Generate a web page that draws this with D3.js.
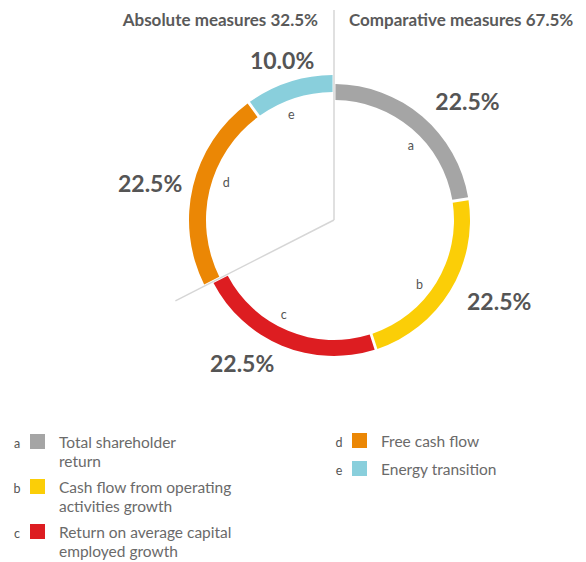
<!DOCTYPE html>
<html>
<head>
<meta charset="utf-8">
<script src="https://cdn.jsdelivr.net/npm/d3@7"></script>
<style>
  body { margin: 0; background: #fff; }
  svg { display: block; font-family: "Lato", "Open Sans", sans-serif; }
  .pct { font-size: 23px; font-weight: 700; fill: #555; }
  .head { font-size: 17px; font-weight: 700; fill: #5a5a5a; }
  .key { font-size: 12.5px; fill: #555; }
  .legend-text { font-size: 15.5px; font-weight: 400; fill: #6a6a6a; }
</style>
</head>
<body>
<svg id="chart" width="586" height="562"></svg>
<script>
/* ── Data ─────────────────────────────────────────────────────────────────── */

const KEYS = ["a", "b", "c", "d", "e"];
const NAMES = [
  ["Total shareholder", "return"],
  ["Cash flow from operating", "activities growth"],
  ["Return on average capital", "employed growth"],
  ["Free cash flow"],
  ["Energy transition"],
];
const SHARES = [22.5, 22.5, 22.5, 22.5, 10.0];
const GROUP_OF = ["comparative", "comparative", "comparative", "absolute", "absolute"];
const GROUP_LABELS = { absolute: "Absolute measures 32.5%", comparative: "Comparative measures 67.5%" };

const COLORS = ["#a5a5a5", "#fbce07", "#dd1d21", "#eb8705", "#89cfdc"];

/* ── Layout ───────────────────────────────────────────────────────────────── */

const cx = 334, cy = 220;
const RADII = {
  comparative: { inner: 120, outer: 136 },
  absolute: { inner: 128, outer: 145 },
};
const DEG = Math.PI / 180;

const svg = d3.select("#chart");
const g = svg.append("g").attr("transform", `translate(${cx},${cy})`);

const slices = d3.pie().sort(null).value((d) => d.share)(
  KEYS.map((k, i) => ({ key: k, share: SHARES[i], group: GROUP_OF[i], color: COLORS[i] })),
);

const arc = d3.arc().padAngle(0.017).padRadius(170);

// divider lines: top and at the start of the absolute group
const dividerAngles = [0, slices[3].startAngle];
const dividerLen = [210, 178];
dividerAngles.forEach((a, i) => {
  g.append("line")
    .attr("x1", 0).attr("y1", 0)
    .attr("x2", Math.sin(a) * dividerLen[i])
    .attr("y2", -Math.cos(a) * dividerLen[i])
    .attr("stroke", "#d6d6d6")
    .attr("stroke-width", 1.5);
});

g.selectAll("path.slice")
  .data(slices)
  .join("path")
  .attr("class", "slice")
  .attr("fill", (d) => d.data.color)
  .attr("d", (d) =>
    arc({ ...d, innerRadius: RADII[d.data.group].inner, outerRadius: RADII[d.data.group].outer }),
  );

const mid = (d) => (d.startAngle + d.endAngle) / 2;

// key letters inside the ring
const keyAngle = (d) => d.startAngle + Math.min(46 * DEG, d.endAngle - d.startAngle - 22 * DEG);
const keyR = (d) => RADII[d.data.group].inner - (d.data.group === "absolute" ? 14 : 13);
g.selectAll("text.key")
  .data(slices)
  .join("text")
  .attr("class", "key")
  .attr("x", (d) => Math.sin(keyAngle(d)) * keyR(d))
  .attr("y", (d) => -Math.cos(keyAngle(d)) * keyR(d))
  .attr("text-anchor", "middle")
  .attr("dy", "0.35em")
  .text((d) => d.data.key);

// percentage labels
g.selectAll("text.pct")
  .data(slices)
  .join("text")
  .attr("class", "pct")
  .each(function (d) {
    const a = mid(d);
    const s = Math.sin(a);
    const anchor = s > 0.35 ? "start" : s < -0.35 ? "end" : "middle";
    const r = anchor === "middle" ? 168 : 156;
    d3.select(this)
      .attr("x", s * r)
      .attr("y", -Math.cos(a) * r)
      .attr("dy", "0.36em")
      .attr("text-anchor", anchor);
  })
  .text((d) => d.data.share.toFixed(1) + "%");

// group headers
svg.append("text")
  .attr("class", "head")
  .attr("x", cx - 16).attr("y", 26)
  .attr("text-anchor", "end")
  .text(GROUP_LABELS.absolute);
svg.append("text")
  .attr("class", "head")
  .attr("x", cx + 15).attr("y", 26)
  .text(GROUP_LABELS.comparative);

/* ── Legend ───────────────────────────────────────────────────────────────── */

const columns = [
  { x: 14, y: 448, items: [0, 1, 2] },
  { x: 336, y: 447, items: [3, 4] },
];
const lineH = 19, rowGap = 7;

columns.forEach((col) => {
  let y = col.y;
  col.items.forEach((i) => {
    const item = svg.append("g").attr("transform", `translate(${col.x},${y})`);
    item.append("text").attr("class", "key").attr("x", 3).attr("text-anchor", "middle")
      .text(KEYS[i]);
    item.append("rect").attr("x", 16).attr("y", -14).attr("width", 15).attr("height", 15)
      .attr("fill", COLORS[i]);
    const t = item.append("text").attr("class", "legend-text").attr("x", 45);
    NAMES[i].forEach((line, j) =>
      t.append("tspan").attr("x", 45).attr("dy", j ? lineH : 0).text(line),
    );
    y += NAMES[i].length * lineH + rowGap + (NAMES[i].length > 1 ? 0 : 2);
  });
});
</script>
</body>
</html>
